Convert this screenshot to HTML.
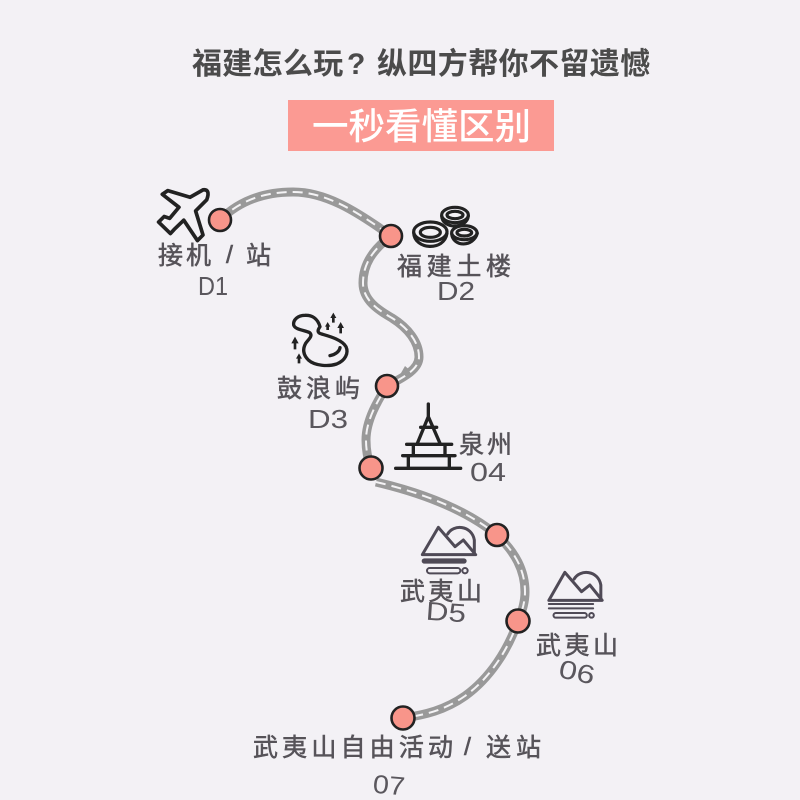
<!DOCTYPE html>
<html lang="zh">
<head>
<meta charset="utf-8">
<title>福建怎么玩</title>
<style>
html,body{margin:0;padding:0;background:#f3f1f5}
svg{display:block}
.h{font-family:"Liberation Sans","Noto Sans CJK SC",sans-serif}
.l{font-family:"Liberation Sans","WenQuanYi Zen Hei",sans-serif;font-size:25px;fill:#565359;stroke:#565359;stroke-width:.55}
.d{font-family:"Liberation Sans",sans-serif;font-size:26px;fill:#5a575d}
.i{fill:none;stroke:#222;stroke-width:10;stroke-linecap:round;stroke-linejoin:round}
.p{fill:#f3f1f5;stroke:#222;stroke-width:9.5;stroke-linecap:round;stroke-linejoin:round}
.m{fill:none;stroke:#4f4a56;stroke-width:9;stroke-linecap:round;stroke-linejoin:round}
.t{fill:none;stroke:#4f4a56;stroke-width:6;stroke-linecap:round;stroke-linejoin:round}
</style>
</head>
<body>
<svg width="800" height="800" viewBox="0 0 800 800" xmlns="http://www.w3.org/2000/svg">
<rect width="800" height="800" fill="#f3f1f5"/>

<text class="h" x="192" y="74" font-size="30" font-weight="700" fill="#4b4b4b" letter-spacing=".3">福建怎么玩</text>
<text class="h" x="347" y="74" font-size="30" font-weight="700" fill="#4b4b4b">?</text>
<text class="h" x="377" y="74" font-size="30" font-weight="700" fill="#4b4b4b" letter-spacing=".4">纵四方帮你不留遗憾</text>

<rect x="288" y="100" width="266" height="51" fill="#fb9a93"/>
<text class="h" x="312" y="139" font-size="36.5" font-weight="500" fill="#fff">一秒看懂区别</text>

<path d="M220 220C240 200 265 192 293 192C325 192 355 210 391 236C372 250 363 265 363 283C363 300 378 310 392 318C408 328 419 342 419 357C419 370 402 378 387 386C378 400 366 420 366 440C366 450 368 460 371 468M376 482C410 490 460 505 497 535C515 552 525 570 525 592C525 602 522 612 518 621C508 650 490 678 465 696C445 710 425 715 403 718" fill="none" stroke="#999" stroke-width="9"/>
<path d="M397 380L412 372L405 366Z" fill="#999"/>
<path d="M220 220C240 200 265 192 293 192C325 192 355 210 391 236C372 250 363 265 363 283C363 300 378 310 392 318C408 328 419 342 419 357C419 370 402 378 387 386C378 400 366 420 366 440C366 450 368 460 371 468M376 482C410 490 460 505 497 535C515 552 525 570 525 592C525 602 522 612 518 621C508 650 490 678 465 696C445 710 425 715 403 718" fill="none" stroke="#f4f3f5" stroke-width="2" stroke-dasharray="10 6"/>

<g fill="#f8958a" stroke="#222" stroke-width="2.6">
<circle cx="220" cy="220" r="11"/>
<circle cx="391" cy="236" r="11"/>
<circle cx="387" cy="386" r="11"/>
<circle cx="371" cy="468" r="11.5"/>
<circle cx="497" cy="535" r="11"/>
<circle cx="518" cy="621" r="11.5"/>
<circle cx="403" cy="718" r="11.5"/>
</g>

<!-- plane -->
<g transform="translate(147.5,179.5) scale(.37)">
  <path class="i" d="M40 40L55 30L115 48L150 28C162 26 168 34 160 55L130 85L150 150L135 165L98 110L72 135L62 146L30 115L45 100L60 105L85 75Z"/>
</g>
<!-- plates -->
<g transform="translate(405,200) scale(.33333)">
  <path class="p" d="M110 48C112 88 185 88 190 48"/>
  <ellipse class="p" cx="150" cy="45" rx="40" ry="23"/>
  <ellipse class="p" cx="150" cy="45" rx="24" ry="11"/>
  <path class="p" d="M140 102C145 142 205 142 217 100"/>
  <ellipse class="p" cx="178" cy="98" rx="38" ry="21"/>
  <ellipse class="p" cx="178" cy="98" rx="22" ry="10"/>
  <path class="p" d="M26 98C28 150 118 155 126 100"/>
  <ellipse class="p" cx="76" cy="95" rx="50" ry="29"/>
  <ellipse class="p" cx="76" cy="97" rx="30" ry="15"/>
</g>
<!-- island -->
<g transform="translate(285,310) scale(.33333)">
  <path class="i" d="M105 50C98 25 80 15 60 16C38 16 24 30 26 45C30 60 60 60 74 68C85 78 70 88 62 100C52 118 55 135 70 150C90 168 130 170 155 162C180 152 192 130 183 110C170 88 130 78 110 72C95 68 98 60 105 50Z"/>
  <path class="i" d="M135 137C150 134 163 125 165 113"/>
  <g fill="#222" stroke="none">
    <path d="M145 8l9 16h-5v14h-8v-14h-5z"/>
    <path d="M128 36l8 14h-4v10h-8v-10h-4z"/>
    <path d="M167 36l10 18h-6v16h-8v-16h-6z"/>
    <path d="M30 80l11 20h-7v18h-8v-18h-7z"/>
    <path d="M42 130l9 16h-5v14h-8v-14h-5z"/>
  </g>
</g>
<!-- pagoda -->
<g transform="translate(390,400) scale(.33333)">
  <path class="i" d="M115 12V58M115 50L82 130M115 50L150 130M92 82H140M50 133H185M70 133V165M165 133V165M38 167H195M55 167V205M178 167V205M17 205H212"/>
</g>
<!-- mountains -->
<g transform="translate(415,520) scale(.33333)">
  <path class="m" d="M22 104L70 22L120 80L145 60L182 104Z"/>
  <path class="m" d="M98 42C115 12 170 15 178 60V100"/>
  <rect x="20" y="115" width="135" height="16" rx="8" fill="#4f4a56"/>
  <rect x="36" y="144" width="100" height="16" rx="8" class="t"/>
  <circle class="t" cx="150" cy="152" r="8"/>
</g>
<g transform="translate(541.5,565) scale(.33333)">
  <path class="m" d="M22 106L70 22L120 80L145 60L182 106Z"/>
  <path class="m" d="M98 42C115 12 170 15 178 60V102"/>
  <path class="t" d="M22 117H155M22 130H155"/>
  <rect x="36" y="144" width="100" height="14" rx="7" class="t"/>
  <circle class="t" cx="150" cy="151" r="7"/>
</g>

<!-- labels -->
<text class="l" x="158" y="264">接</text><text class="l" x="186" y="264">机</text><text class="l" x="226" y="263" font-size="20">/</text><text class="l" x="246" y="264">站</text>
<text class="d" x="198" y="295" textLength="30" lengthAdjust="spacingAndGlyphs">D1</text>
<text class="l" x="397" y="275" textLength="114">福建土楼</text>
<text class="d" x="437" y="300" textLength="38" lengthAdjust="spacingAndGlyphs">D2</text>
<text class="l" x="277" y="397" textLength="83">鼓浪屿</text>
<text class="d" x="308" y="428" textLength="40" lengthAdjust="spacingAndGlyphs">D3</text>
<text class="l" x="459" y="453" textLength="53">泉州</text>
<text class="d" x="470" y="481" textLength="36" lengthAdjust="spacingAndGlyphs">04</text>
<text class="l" x="400" y="600" textLength="82">武夷山</text>
<text class="d" x="426" y="621" textLength="40" lengthAdjust="spacingAndGlyphs" transform="rotate(4 446 612)">D5</text>
<text class="l" x="536" y="654" textLength="82">武夷山</text>
<text class="d" x="559" y="681" textLength="36" lengthAdjust="spacingAndGlyphs" transform="rotate(12 577 672)">06</text>
<text class="l" x="253" y="756" textLength="200">武夷山自由活动</text>
<text class="l" x="464" y="755" font-size="20">/</text>
<text class="l" x="486" y="756" textLength="55">送站</text>
<text class="d" x="373" y="794" textLength="32" lengthAdjust="spacingAndGlyphs" transform="rotate(5 389 785)">07</text>
</svg>
</body>
</html>
